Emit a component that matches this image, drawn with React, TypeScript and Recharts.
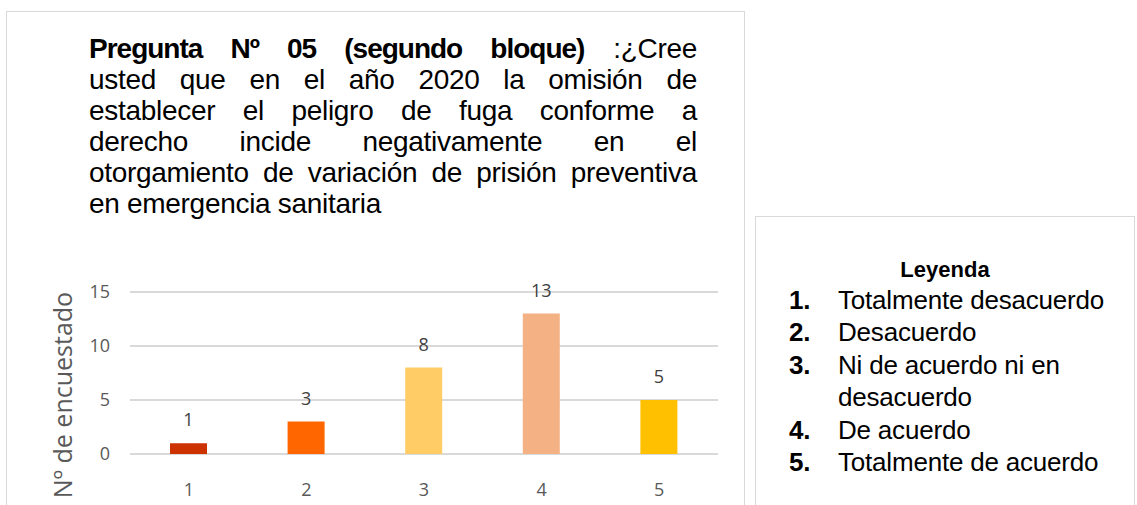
import React from 'react';
import { BarChart, Bar, XAxis, YAxis, CartesianGrid, Cell, LabelList } from 'recharts';

const categories = ['1', '2', '3', '4', '5'];
const values = [1, 3, 8, 13, 5];
const barColors = ['#CC3300', '#FF6600', '#FFCC66', '#F4B183', '#FFC000'];
const yTicks = [0, 5, 10, 15];
const yAxisTitle = 'Nº de encuestado';
const titleBold = 'Pregunta Nº 05 (segundo bloque)';
const titleLines = [
  ' :¿Cree',
  'usted que en el año 2020 la omisión de',
  'establecer el peligro de fuga conforme a',
  'derecho incide negativamente en el',
  'otorgamiento de variación de prisión preventiva',
  'en emergencia sanitaria',
];
const legendTitle = 'Leyenda';
const legendNums = ['1.', '2.', '3.', '', '4.', '5.'];
const legendTexts = [
  'Totalmente desacuerdo',
  'Desacuerdo',
  'Ni de acuerdo ni en',
  'desacuerdo',
  'De acuerdo',
  'Totalmente de acuerdo',
];

const data = categories.map((c, i) => ({ name: c, value: values[i] }));

const textFont = '"Liberation Sans", Arial, sans-serif';
const chartFont = '"Open Sans", "Noto Sans", sans-serif';

export default function App() {
  return (
    <div style={{ position: 'absolute', left: 0, top: 0, width: 1137, height: 505, overflow: 'hidden', background: '#fff' }}>
      {/* main box */}
      <div style={{ position: 'absolute', left: 6, top: 11, width: 739, height: 540, border: '1.5px solid #d9d9d9', boxSizing: 'border-box' }} />
      {/* legend box */}
      <div style={{ position: 'absolute', left: 755, top: 216, width: 380, height: 320, border: '1.5px solid #d9d9d9', boxSizing: 'border-box' }} />

      {/* title */}
      <div style={{ position: 'absolute', left: 89, top: 33, width: 608, fontFamily: textFont, fontSize: 28, lineHeight: '31px', color: '#000', letterSpacing: -0.3 }}>
        {titleLines.map((line, i) => (
          <div
            key={i}
            style={{
              textAlign: i === titleLines.length - 1 ? 'left' : 'justify',
              textAlignLast: i === titleLines.length - 1 ? 'left' : 'justify',
              whiteSpace: 'nowrap',
            }}
          >
            {i === 0 ? (
              <>
                <span style={{ fontWeight: 'bold', letterSpacing: -1 }}>{titleBold}</span>
                {line}
              </>
            ) : (
              line
            )}
          </div>
        ))}
      </div>

      {/* legend */}
      <div style={{ position: 'absolute', left: 757, top: 255, width: 376, textAlign: 'center', fontFamily: textFont, fontSize: 22, fontWeight: 'bold', lineHeight: '30px', color: '#000' }}>
        {legendTitle}
      </div>
      <div style={{ position: 'absolute', left: 789, top: 284, fontFamily: textFont, fontSize: 26, lineHeight: '32.4px', color: '#000', letterSpacing: -0.2 }}>
        {legendTexts.map((t, i) => (
          <div key={i} style={{ display: 'flex', whiteSpace: 'nowrap' }}>
            <span style={{ width: 49, fontWeight: 'bold' }}>{legendNums[i]}</span>
            <span>{t}</span>
          </div>
        ))}
      </div>

      {/* y axis title */}
      <div
        style={{
          position: 'absolute',
          left: 62,
          top: 395,
          transform: 'translate(-50%, -50%) rotate(-90deg)',
          fontFamily: chartFont,
          fontSize: 25,
          color: '#595959',
          whiteSpace: 'nowrap',
          lineHeight: '30px',
        }}
      >
        {yAxisTitle}
      </div>

      <div style={{ position: 'absolute', left: 40, top: 270 }}>
        <BarChart width={700} height={240} data={data} margin={{ top: 22, right: 22, left: 30, bottom: 0 }}>
          <CartesianGrid vertical={false} stroke="#d9d9d9" strokeWidth={2} />
          <XAxis
            dataKey="name"
            axisLine={false}
            tickLine={false}
            tickSize={0}
            tickMargin={29}
            height={56}
            interval={0}
            tick={{ fill: '#595959', fontSize: 18, fontFamily: chartFont }}
          />
          <YAxis
            domain={[0, 15]}
            ticks={yTicks}
            axisLine={false}
            tickLine={false}
            tickSize={0}
            tickMargin={20}
            width={60}
            tick={{ fill: '#595959', fontSize: 18, fontFamily: chartFont }}
          />
          <Bar dataKey="value" barSize={37} isAnimationActive={false}>
            {data.map((d, i) => (
              <Cell key={d.name} fill={barColors[i]} />
            ))}
            <LabelList dataKey="value" position="top" offset={17} fill="#404040" fontSize={18} fontFamily={chartFont} />
          </Bar>
        </BarChart>
      </div>
    </div>
  );
}
